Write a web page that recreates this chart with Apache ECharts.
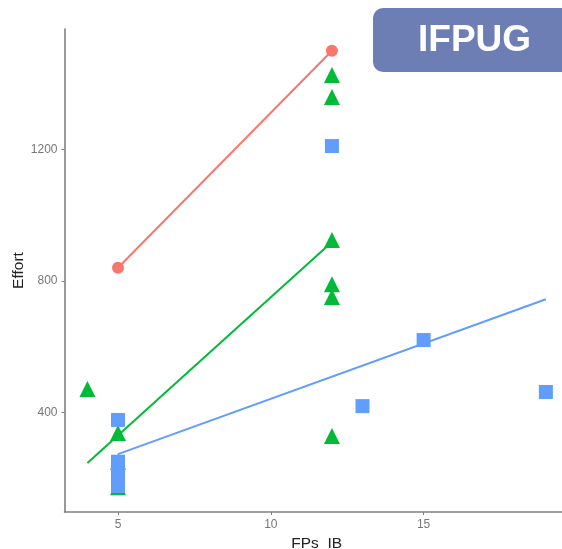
<!DOCTYPE html>
<html>
<head>
<meta charset="utf-8">
<script src="https://cdn.jsdelivr.net/npm/echarts@6/dist/echarts.min.js"></script>
<style>
html,body{margin:0;padding:0;background:#fff;}
#chart{width:562px;height:549px;}
</style>
</head>
<body>
<div id="chart"></div>
<script>
// Data
const redPoints   = [[5, 840], [12, 1500]];
const greenPoints = [[4, 471], [5, 337], [5, 250], [5, 172], [12, 1426], [12, 1359], [12, 924], [12, 790], [12, 751], [12, 328]];
const bluePoints  = [[5, 377], [5, 250], [5, 230], [5, 210], [5, 190], [5, 176], [12, 1210], [13, 419], [15, 620], [19, 462]];
const redFit   = [[5, 840], [12, 1500]];
const greenFit = [[4, 246], [12, 918]];
const blueFit  = [[5, 273], [19, 744]];
const xTicks = [5, 10, 15];
const yTicks = [400, 800, 1200];
const xRange = [3.25, 19.75];
const yRange = [97, 1566];
const titleText = 'IFPUG';
const xName = 'FPs  IB';
const yName = 'Effort';

const RED = '#F8766D', GREEN = '#00BA38', BLUE = '#619CFF';
const chart = echarts.init(document.getElementById('chart'), null, {renderer: 'canvas'});

function fitLine(data, color) {
  return {type: 'line', data: data, showSymbol: false, symbol: 'none', silent: true,
    lineStyle: {color: color, width: 2}, z: 2, animation: false};
}
function pts(data, color, symbol, size) {
  return {type: 'scatter', data: data, symbol: symbol, symbolSize: size,
    itemStyle: {color: color, opacity: 1}, z: 3, animation: false};
}

chart.setOption({
  animation: false,
  grid: {left: 64.5, top: 29, right: -6.8, bottom: 37, containLabel: false, outerBoundsMode: 'none'},
  xAxis: {
    type: 'value', min: xRange[0], max: xRange[1],
    name: xName, nameLocation: 'middle', nameGap: 23,
    nameTextStyle: {color: '#222', fontSize: 15.5, fontFamily: 'Liberation Sans, Arial'},
    axisLine: {show: true, lineStyle: {color: '#808080', width: 1.6}},
    axisTick: {show: true, length: 3, lineStyle: {color: '#808080'}, customValues: xTicks},
    axisLabel: {color: '#777', fontSize: 12, margin: 7, fontFamily: 'Liberation Sans, Arial',
      customValues: xTicks, formatter: v => String(v)},
    splitLine: {show: false}
  },
  yAxis: {
    type: 'value', min: yRange[0], max: yRange[1],
    name: yName, nameLocation: 'middle', nameGap: 38, nameMoveOverlap: false,
    nameTextStyle: {color: '#222', fontSize: 15.5, fontFamily: 'Liberation Sans, Arial'},
    axisLine: {show: true, lineStyle: {color: '#808080', width: 1.6}},
    axisTick: {show: true, length: 3, lineStyle: {color: '#808080'}, customValues: yTicks},
    axisLabel: {color: '#777', fontSize: 12, margin: 7, fontFamily: 'Liberation Sans, Arial',
      customValues: yTicks, formatter: v => String(v)},
    splitLine: {show: false}
  },
  graphic: [
    {type: 'rect', left: 373, top: 8, shape: {width: 210, height: 64, r: 10},
     style: {fill: '#6c7eb4'}, z: 10},
    {type: 'text', left: 418, top: 22,
     style: {text: titleText, fill: '#ffffff', font: 'bold 37px "Liberation Sans", Arial'}, z: 11}
  ],
  series: [
    fitLine(redFit, RED),
    fitLine(greenFit, GREEN),
    fitLine(blueFit, BLUE),
    pts(redPoints, RED, 'circle', 12),
    pts(greenPoints, GREEN, 'triangle', 16),
    pts(bluePoints, BLUE, 'rect', 14)
  ]
});
</script>
</body>
</html>
